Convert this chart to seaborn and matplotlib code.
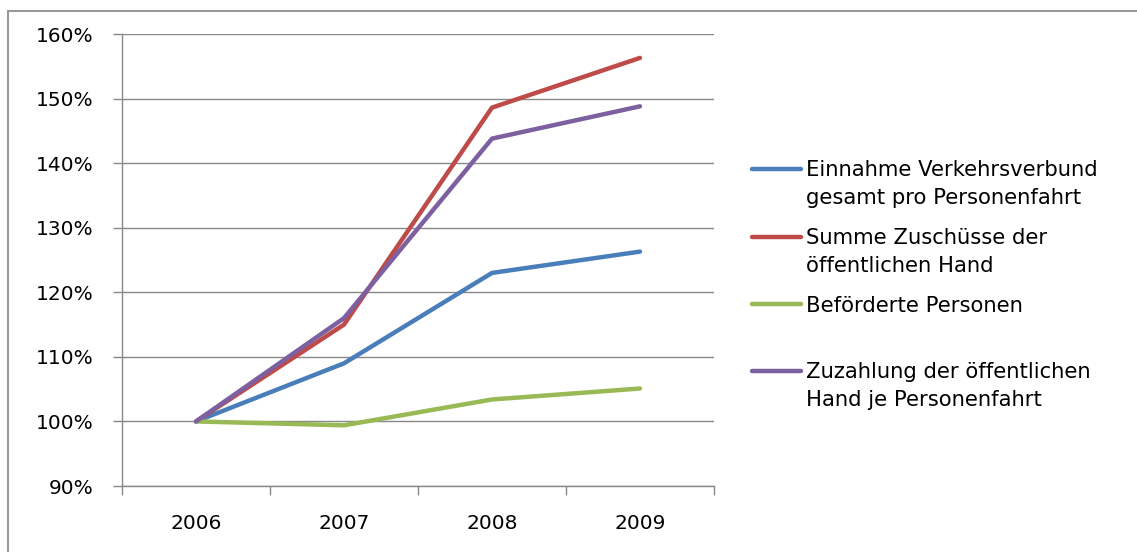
import matplotlib
matplotlib.use("Agg")
import matplotlib.pyplot as plt
import matplotlib.ticker as mticker
from matplotlib.lines import Line2D
from matplotlib.patches import Rectangle
import seaborn as sns
import pandas as pd

years = ["2006", "2007", "2008", "2009"]
einnahme = [100.0, 109.0, 123.0, 126.3]
zuschuesse = [100.0, 115.0, 148.6, 156.3]
befoerderte = [100.0, 99.4, 103.4, 105.1]
zuzahlung = [100.0, 116.0, 143.8, 148.8]
series_labels = [
    "Einnahme Verkehrsverbund\ngesamt pro Personenfahrt",
    "Summe Zuschüsse der\nöffentlichen Hand",
    "Beförderte Personen",
    "Zuzahlung der öffentlichen\nHand je Personenfahrt",
]
colors = ["#4A7EBB", "#BE4B48", "#98B954", "#7D60A0"]
y_ticks = [90, 100, 110, 120, 130, 140, 150, 160]

series_values = [einnahme, zuschuesse, befoerderte, zuzahlung]
rows = []
for lab, vals in zip(series_labels, series_values):
    for yr, v in zip(years, vals):
        rows.append({"Jahr": yr, "Wert": v, "Serie": lab})
df = pd.DataFrame(rows)

sns.set_theme(style="white")
plt.rcParams["font.family"] = ["DejaVu Sans"]

W, H = 1137, 552
fig = plt.figure(figsize=(W / 100, H / 100), dpi=100)
fig.patch.set_facecolor("white")
ax = fig.add_axes([122 / W, 1 - 486 / H, (714 - 122) / W, (486 - 34) / H])

LW = 3.2
sns.lineplot(data=df, x="Jahr", y="Wert", hue="Serie", palette=colors,
             hue_order=series_labels, linewidth=LW, legend=False, sort=False,
             ax=ax, solid_capstyle="round", solid_joinstyle="round")

grid_c = "#888888"
ax.set_ylim(90, 160)
ax.set_xlim(-0.5, 3.5)
ax.set_yticks(y_ticks)
ax.yaxis.set_major_formatter(mticker.FuncFormatter(lambda v, p: f"{v:.0f}%"))
ax.yaxis.grid(True, color=grid_c, linewidth=1.0)
ax.xaxis.grid(False)
ax.set_axisbelow(True)
ax.set_xlabel("")
ax.set_ylabel("")

for s in ["top", "right"]:
    ax.spines[s].set_visible(False)
for s in ["left", "bottom"]:
    ax.spines[s].set_color(grid_c)
    ax.spines[s].set_linewidth(1.0)

ax.tick_params(axis="y", which="major", direction="out", length=6.5,
               color=grid_c, width=1.0, labelsize=14.5, pad=14, left=True)
ax.xaxis.set_minor_locator(mticker.FixedLocator([-0.5, 0.5, 1.5, 2.5, 3.5]))
ax.tick_params(axis="x", which="minor", direction="out", length=6.5,
               color=grid_c, width=1.0, bottom=True)
ax.tick_params(axis="x", which="major", length=0, labelsize=14.5, pad=20)
for t in ax.get_xticklabels() + ax.get_yticklabels():
    t.set_color("black")

# legend (Excel style: handle aligned to the first line of each entry)
handle_y = [168.7, 236.5, 304.3, 370.5]
for lab, col, hy in zip(series_labels, colors, handle_y):
    fig.add_artist(Line2D([752 / W, 801 / W], [1 - hy / H, 1 - hy / H],
                          color=col, linewidth=LW, solid_capstyle="round"))
    for i, line in enumerate(lab.split("\n")):
        fig.text(806 / W, 1 - (hy + 7.5 + 28 * i) / H, line, fontsize=15.2,
                 ha="left", va="baseline", color="black")

# outer chart-area border
fig.add_artist(Rectangle((8 / W, -0.05), 1.1, 1 - 11 / H + 0.05,
                         transform=fig.transFigure, fill=False,
                         edgecolor="#999999", linewidth=1.5))

fig.savefig("out.png", dpi=100, facecolor="white")
